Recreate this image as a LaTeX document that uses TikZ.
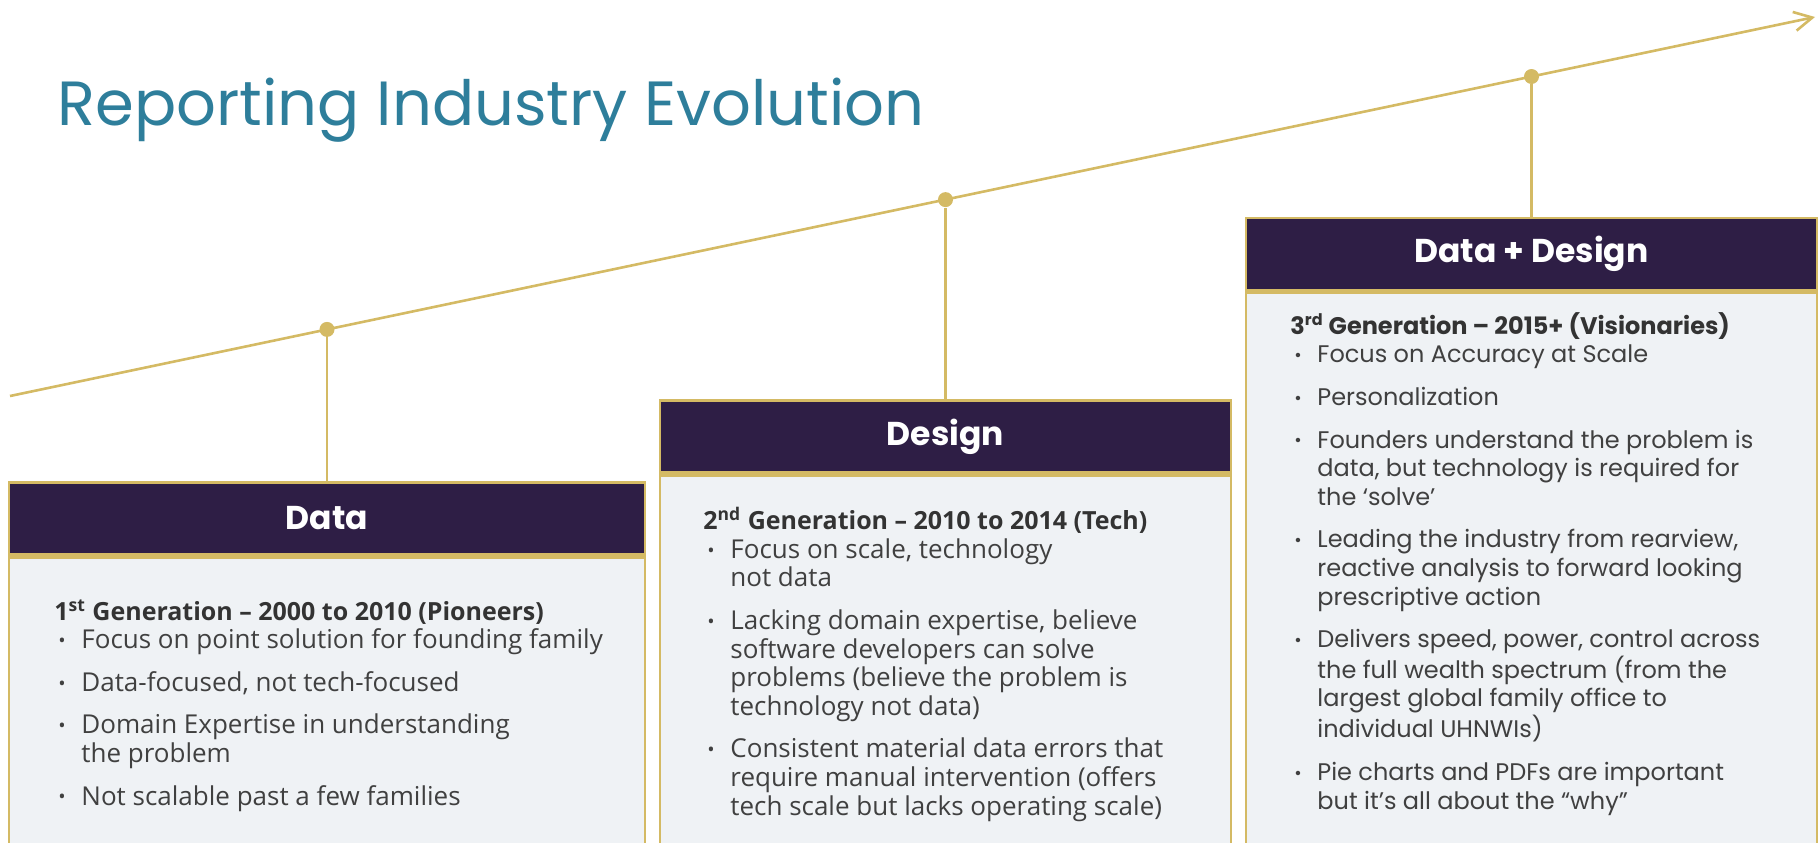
\documentclass[tikz,border=0pt]{standalone}
\usepackage{fontspec}
\setmainfont{Poppins}
\newfontfamily\humanfont{Open Sans}
\usetikzlibrary{arrows.meta}

\definecolor{gold}{HTML}{D4BA64}
\definecolor{plum}{HTML}{2E1E45}
\definecolor{pane}{HTML}{EFF2F5}
\definecolor{titleblue}{HTML}{2E7E9B}
\definecolor{ink}{HTML}{404040}

% bullet and continuation indent
\newcommand{\bul}{\hspace*{2pt}\makebox[11.5pt][l]{\raisebox{0.6pt}{\scalebox{0.75}{\textbullet}}}}
\newcommand{\cnt}{\hspace*{13.5pt}}
\newcommand{\narrowbody}{\humanfont\fontsize{13}{14.3}\selectfont}
\newcommand{\widebody}{\fontsize{12}{14.3}\selectfont}
\newcommand{\genline}[1]{{\fontsize{12.5}{14.3}\selectfont\bfseries\color{black!80}#1}}

\tikzset{
  trend/.style={gold, line width=1.3pt},
  stem/.style={gold, line width=1.3pt},
  dot/.style={circle, fill=gold, minimum size=7.5pt, inner sep=0pt},
  head/.style={draw=gold, line width=1.4pt, fill=plum, text=white,
    font=\fontsize{16.5}{20}\selectfont\bfseries, inner sep=0pt,
    minimum height=36pt, anchor=north},
  panel/.style={draw=gold, line width=1.4pt, fill=pane, inner sep=0pt, anchor=north},
  blurb/.style={anchor=base west, align=left, inner sep=0pt, text=ink}
}

\begin{document}
\begin{tikzpicture}[x=0.5pt, y=-0.5pt]
    \useasboundingbox (0,0) rectangle (1818,842);

    % title
    \node[anchor=base west, inner sep=0pt, text=titleblue,
      font=\fontsize{31.2}{36}\selectfont] (title) at (57.5,125) {Reporting Industry Evolution};

    % trend line
    \coordinate (start) at (10,396);
    \coordinate (tip) at (1815,17);
    \draw[trend, -{Straight Barb[length=9pt,width=9.5pt]}] (start) -- (tip);

    % milestones
    \node[dot] (d1) at (327,329.4) {};
    \node[dot] (d2) at (945.5,199.6) {};
    \node[dot] (d3) at (1531.5,76.5) {};

    % headers
    \node[head, minimum width=318pt] (head1) at (327,481) {Data};
    \node[head, minimum width=285.5pt] (head2) at (945.5,399) {Design};
    \node[head, minimum width=285.5pt] (head3) at (1531.5,216.5) {Data + Design};

    % panels
    \node[panel, minimum width=318pt, minimum height=143.75pt] (panel1) at (head1.south) {};
    \node[panel, minimum width=285.5pt, minimum height=184.75pt] (panel2) at (head2.south) {};
    \node[panel, minimum width=285.5pt, minimum height=276pt] (panel3) at (head3.south) {};

    % stems
    \draw[stem] (d1) -- (head1.north);
    \draw[stem] (d2) -- (head2.north);
    \draw[stem] (d3) -- (head3.north);

    % texts (anchored at the last baseline)
    \node[blurb, font=\narrowbody] (txt1) at (54,805) {%
      \genline{1\textsuperscript{st} Generation – 2000 to 2010 (Pioneers)}\\
      \bul Focus on point solution for founding family\\[7pt]
      \bul Data-focused, not tech-focused\\[7pt]
      \bul Domain Expertise in understanding\\
      \cnt the problem\\[7pt]
      \bul Not scalable past a few families};

    \node[blurb, font=\narrowbody] (txt2) at (703,815) {%
      \genline{2\textsuperscript{nd} Generation – 2010 to 2014 (Tech)}\\
      \bul Focus on scale, technology\\
      \cnt not data\\[7pt]
      \bul Lacking domain expertise, believe\\
      \cnt software developers can solve\\
      \cnt problems (believe the problem is\\
      \cnt technology not data)\\[7pt]
      \bul Consistent material data errors that\\
      \cnt require manual intervention (offers\\
      \cnt tech scale but lacks operating scale)};

    \node[blurb, font=\widebody] (txt3) at (1290,809) {%
      \textbf{\color{black!80}3\textsuperscript{rd} Generation – 2015+ (Visionaries)}\\
      \bul Focus on Accuracy at Scale\\[7pt]
      \bul Personalization\\[7pt]
      \bul Founders understand the problem is\\
      \cnt data, but technology is required for\\
      \cnt the ‘solve’\\[7pt]
      \bul Leading the industry from rearview,\\
      \cnt reactive analysis to forward looking\\
      \cnt prescriptive action\\[7pt]
      \bul Delivers speed, power, control across\\
      \cnt the full wealth spectrum (from the\\
      \cnt largest global family office to\\
      \cnt individual UHNWIs)\\[7pt]
      \bul Pie charts and PDFs are important\\
      \cnt but it’s all about the “why”};
\end{tikzpicture}
\end{document}
